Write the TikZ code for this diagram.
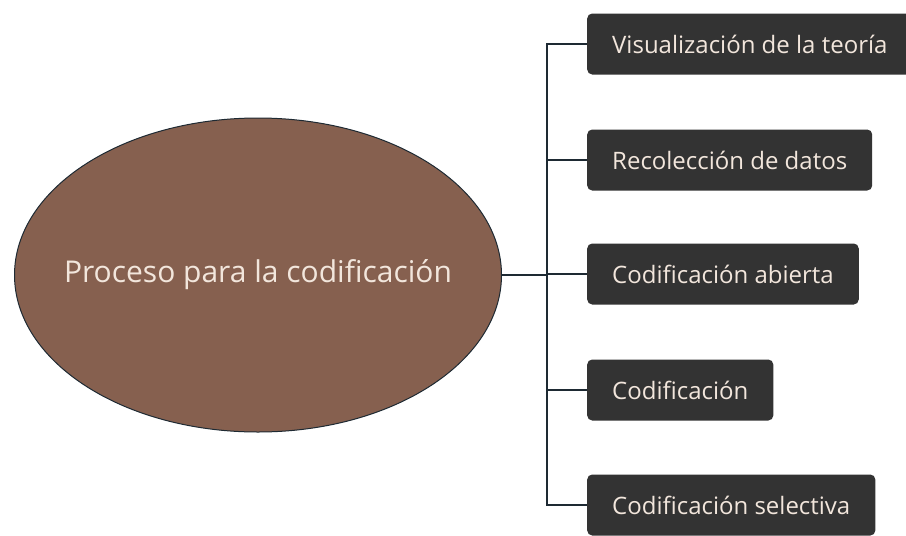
\documentclass[tikz,border=0pt]{standalone}
\usepackage{fontspec}
\setmainfont{Open Sans}
\usetikzlibrary{shapes.geometric}
\definecolor{brownfill}{HTML}{86604F}
\definecolor{boxfill}{HTML}{333333}
\definecolor{lighttext}{HTML}{F2E6DC}
\definecolor{linec}{HTML}{1E2A33}
\tikzset{
  mainell/.style={ellipse, draw=linec, line width=1pt, fill=brownfill, minimum width=487pt, minimum height=314pt, inner sep=0pt},
  mainlbl/.style={text=lighttext, font=\fontsize{30}{36}\selectfont},
  stepbox/.style={rounded corners=5pt, fill=boxfill, anchor=west, minimum height=61pt, inner xsep=25pt, text=lighttext, font=\fontsize{24}{28}\selectfont},
  conn/.style={draw=linec, line width=2pt}
}
\begin{document}
\begin{tikzpicture}[x=1pt,y=-1pt]
\useasboundingbox (0,0) rectangle (906,536);
\node[mainell, label={[mainlbl]center:Proceso para la codificación}] (main) at (258,275) {};
\node[stepbox] (b1) at (587,44) {Visualización de la teoría};
\node[stepbox] (b2) at (587,160) {Recolección de datos};
\node[stepbox] (b3) at (587,274) {Codificación abierta};
\node[stepbox] (b4) at (587,390) {Codificación};
\node[stepbox] (b5) at (587,505) {Codificación selectiva};
\coordinate (trunk) at (547,275);
\draw[conn] (main.east) -- (trunk);
\draw[conn] (b1.west) -| (trunk) |- (b5.west);
\draw[conn] (b2.west) -- (b2.west -| trunk);
\draw[conn] (b3.west) -- (b3.west -| trunk);
\draw[conn] (b4.west) -- (b4.west -| trunk);
\end{tikzpicture}
\end{document}
